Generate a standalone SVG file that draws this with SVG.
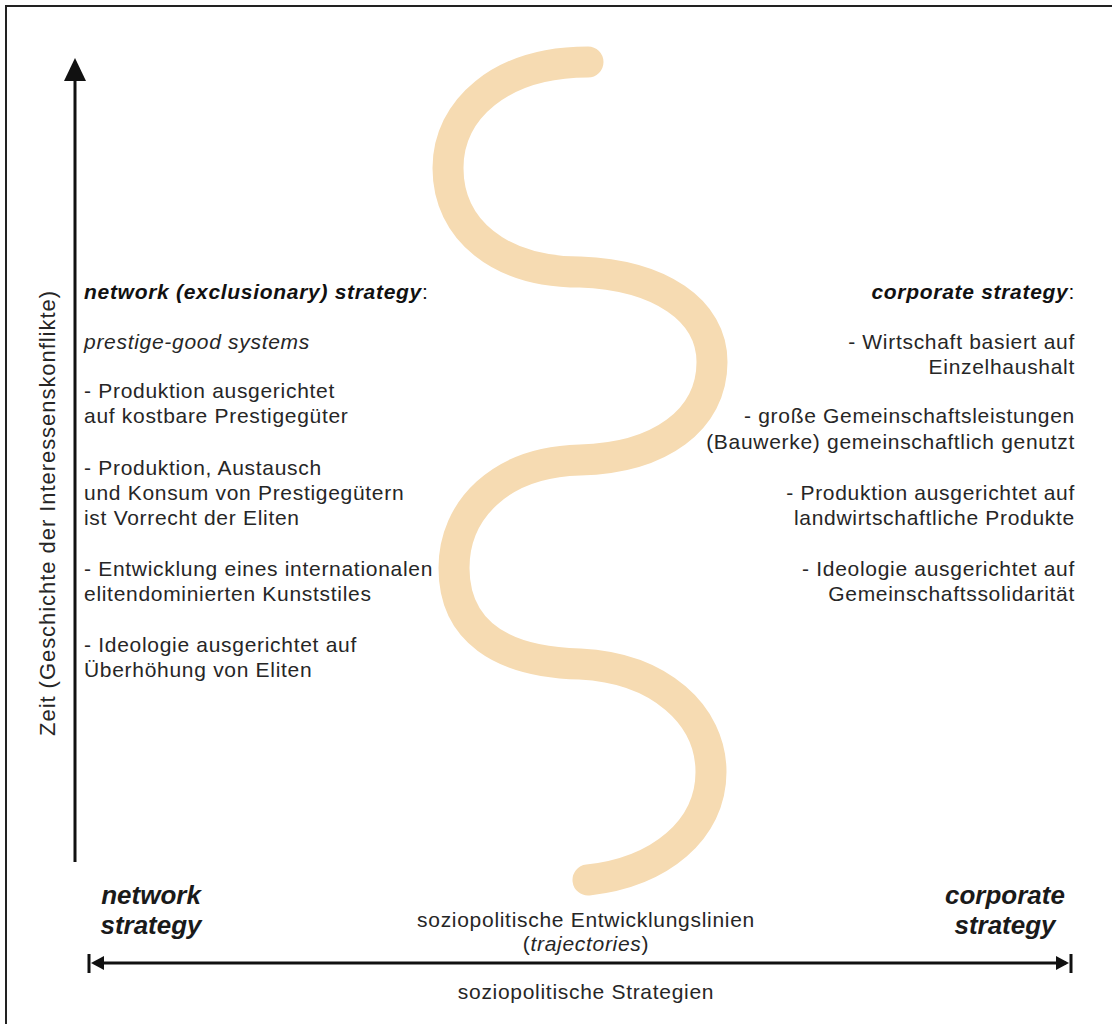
<svg xmlns="http://www.w3.org/2000/svg" width="1112" height="1024" viewBox="0 0 1112 1024">
<style>
.t{font-family:"Liberation Sans",Arial,sans-serif;font-size:21px;letter-spacing:0.7px;fill:#262626}
.bi{font-weight:bold;font-style:italic;fill:#111}
.i{font-style:italic}
.big{font-family:"Liberation Sans",Arial,sans-serif;font-size:26px;font-weight:bold;font-style:italic;fill:#1a1a1a}
.r{text-anchor:end}
.c{text-anchor:middle}
.ax{stroke:#111;stroke-width:3;fill:none}
</style>
<rect width="1112" height="1024" fill="#fff"/>
<path d="M6,1024 V6 H1112" fill="none" stroke="#222" stroke-width="2"/>
<g id="trajectory">
<path d="M588,62 C500,62 448,110 448,168 C448,230 500,272 580,272 C660,275 712,310 712,362 C712,420 660,458 580,460 C500,462 454,510 454,568 C454,630 500,662 580,664 C660,668 711,715 711,772 C711,830 660,872 588,880" fill="none" stroke="#F6DBB2" stroke-width="31" stroke-linecap="round"/>
</g>
<g id="connectors">
<line class="ax" x1="75" y1="862" x2="75" y2="76"/>
<polygon points="75,58 64,81 86,81" fill="#111"/>
<line class="ax" x1="95" y1="963" x2="1066" y2="963"/>
<polygon points="91,963 104,956 104,970" fill="#111"/>
<line x1="89" y1="954" x2="89" y2="973" stroke="#111" stroke-width="3"/>
<polygon points="1069,963 1056,956 1056,970" fill="#111"/>
<line x1="1071" y1="954" x2="1071" y2="973" stroke="#111" stroke-width="3"/>
</g>
<g id="y-label">
<text class="t c" style="font-size:22px;letter-spacing:0.95px" transform="translate(55,513) rotate(-90)">Zeit (Geschichte der Interessenskonflikte)</text>
</g>
<g id="network-block">
<text class="t bi" x="84" y="299">network (exclusionary) strategy<tspan font-weight="normal" font-style="normal">:</tspan></text>
<text class="t i" x="84" y="349">prestige-good systems</text>
<text class="t" x="84" y="398">- Produktion ausgerichtet</text>
<text class="t" x="84" y="423">auf kostbare Prestigegüter</text>
<text class="t" x="84" y="475">- Produktion, Austausch</text>
<text class="t" x="84" y="500">und Konsum von Prestigegütern</text>
<text class="t" x="84" y="525">ist Vorrecht der Eliten</text>
<text class="t" x="84" y="576">- Entwicklung eines internationalen</text>
<text class="t" x="84" y="601">elitendominierten Kunststiles</text>
<text class="t" x="84" y="652">- Ideologie ausgerichtet auf</text>
<text class="t" x="84" y="677">Überhöhung von Eliten</text>
</g>
<g id="corporate-block">
<text class="t bi r" x="1075" y="299">corporate strategy<tspan font-weight="normal" font-style="normal">:</tspan></text>
<text class="t r" x="1075" y="349">- Wirtschaft basiert auf</text>
<text class="t r" x="1075" y="374">Einzelhaushalt</text>
<text class="t r" x="1075" y="423">- große Gemeinschaftsleistungen</text>
<text class="t r" x="1075" y="449">(Bauwerke) gemeinschaftlich genutzt</text>
<text class="t r" x="1075" y="500">- Produktion ausgerichtet auf</text>
<text class="t r" x="1075" y="525">landwirtschaftliche Produkte</text>
<text class="t r" x="1075" y="576">- Ideologie ausgerichtet auf</text>
<text class="t r" x="1075" y="601">Gemeinschaftssolidarität</text>
</g>
<g id="network-end">
<text class="big c" x="151" y="904">network</text>
<text class="big c" x="151" y="934">strategy</text>
</g>
<g id="corporate-end">
<text class="big c" x="1005" y="904">corporate</text>
<text class="big c" x="1005" y="934">strategy</text>
</g>
<g id="x-labels">
<text class="t c" x="586" y="927">soziopolitische Entwicklungslinien</text>
<text class="t c" x="586" y="951">(<tspan font-style="italic">trajectories</tspan>)</text>
<text class="t c" x="586" y="999">soziopolitische Strategien</text>
</g>
</svg>
